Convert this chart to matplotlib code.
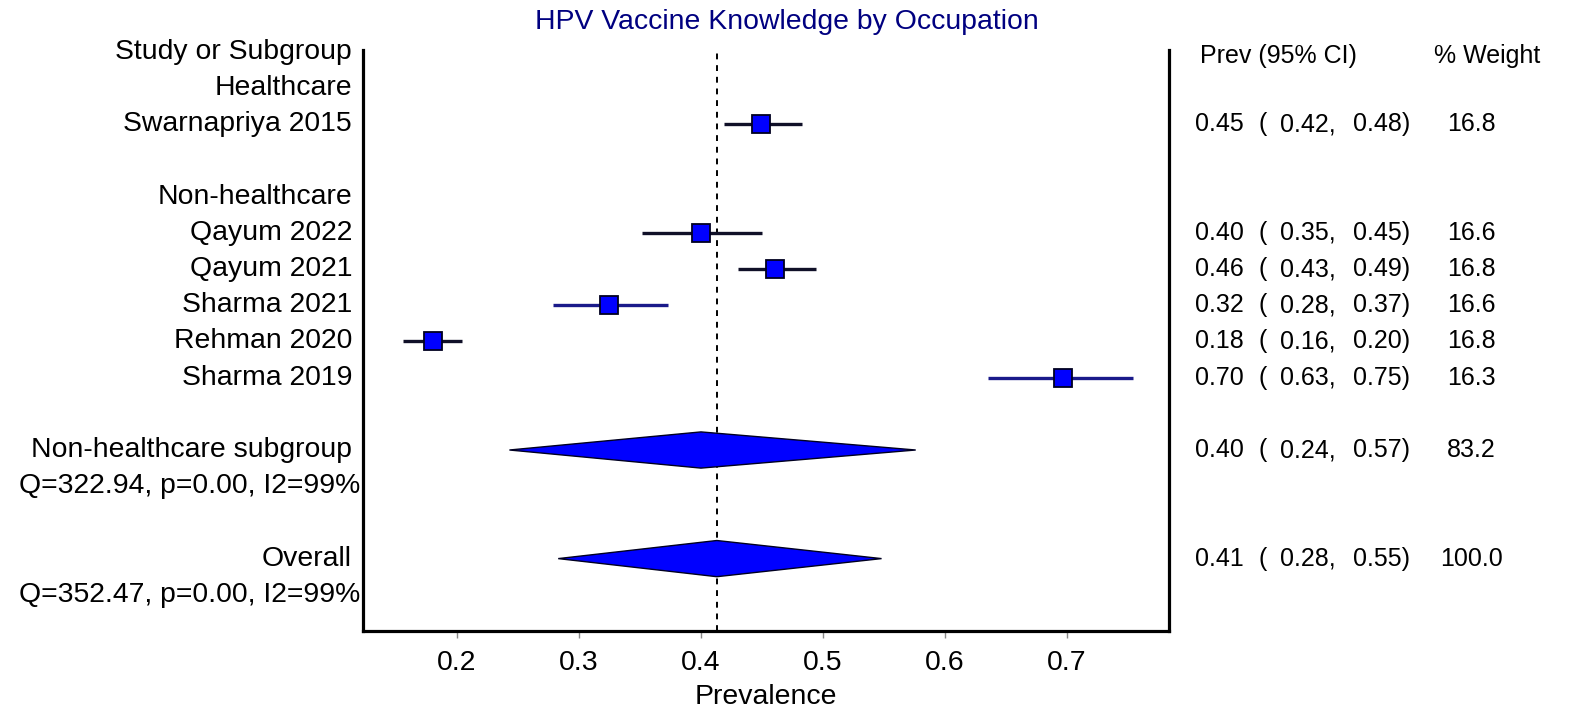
import matplotlib
matplotlib.use("Agg")
import matplotlib.pyplot as plt
from matplotlib.transforms import blended_transform_factory

plt.rcParams["font.family"] = ["Liberation Sans", "DejaVu Sans"]

# ---- data ----
study_names = ["Swarnapriya 2015", "Qayum 2022", "Qayum 2021",
               "Sharma 2021", "Rehman 2020", "Sharma 2019"]
study_rows = [2, 5, 6, 7, 8, 9]
study_est = [0.449, 0.400, 0.461, 0.325, 0.180, 0.697]
study_lo = [0.419, 0.352, 0.430, 0.279, 0.156, 0.635]
study_hi = [0.483, 0.450, 0.494, 0.373, 0.204, 0.754]
study_est_txt = ["0.45", "0.40", "0.46", "0.32", "0.18", "0.70"]
study_lo_txt = ["0.42,", "0.35,", "0.43,", "0.28,", "0.16,", "0.63,"]
study_hi_txt = ["0.48)", "0.45)", "0.49)", "0.37)", "0.20)", "0.75)"]
study_weight = ["16.8", "16.6", "16.8", "16.6", "16.8", "16.3"]

pooled_names = ["Non-healthcare subgroup", "Overall"]
pooled_rows = [11, 14]
pooled_est = [0.400, 0.413]
pooled_lo = [0.243, 0.283]
pooled_hi = [0.576, 0.548]
pooled_est_txt = ["0.40", "0.41"]
pooled_lo_txt = ["0.24,", "0.28,"]
pooled_hi_txt = ["0.57)", "0.55)"]
pooled_weight = ["83.2", "100.0"]
het_txt = ["Q=322.94, p=0.00, I2=99%", "Q=352.47, p=0.00, I2=99%"]
het_rows = [12, 15]

group_names = ["Healthcare", "Non-healthcare"]
group_rows = [1, 4]

ref_line = 0.413
x_ticks = [0.2, 0.3, 0.4, 0.5, 0.6, 0.7]

# ---- figure ----
W, H = 1595, 716
fig = plt.figure(figsize=(W / 100, H / 100), dpi=100)
ax = fig.add_axes([363 / W, 1 - 631 / H, (1169 - 363) / W, (631 - 50) / H])
ax.set_xlim(0.1230, 0.7836)
ax.set_ylim(16.0, -0.05)

fs = 20.4      # labels on the left, title, axis
fs_r = 18      # table on the right
navy = "#000080"

# reference line
ax.axvline(ref_line, color="black", lw=1.4, ls=(0, (3, 3)), zorder=1)

# study CIs and squares
ci_colors = ["#101028", "#101028", "#101028", "#1a1a8a", "#101028", "#1a1a8a"]
for i in range(len(study_names)):
    y = study_rows[i]
    ax.plot([study_lo[i], study_hi[i]], [y, y], color=ci_colors[i], lw=2.4,
            solid_capstyle="butt", zorder=2)
    ax.plot(study_est[i], y, marker="s", ms=13, mfc="#0000ff", mec="#000020",
            mew=1.3, zorder=3)

# pooled diamonds
for i in range(len(pooled_names)):
    y = pooled_rows[i]
    h = 0.5
    ax.fill([pooled_lo[i], pooled_est[i], pooled_hi[i], pooled_est[i]],
            [y, y - h, y, y + h], facecolor="#0000ff", edgecolor="#000020",
            lw=1.0, zorder=3)

# axes styling
ax.spines["top"].set_visible(False)
for s in ["left", "right", "bottom"]:
    ax.spines[s].set_linewidth(2.3)
ax.set_yticks([])
ax.set_xticks(x_ticks)
ax.set_xticklabels([f"{t:.1f}" for t in x_ticks], fontsize=fs)
ax.tick_params(axis="x", direction="out", length=5, width=1, color="#888888",
               pad=9)
ax.set_xlabel("Prevalence", fontsize=fs, labelpad=5.5)

# title
fig.text(787 / W, 1 - 22 / H, "HPV Vaccine Knowledge by Occupation",
         fontsize=fs, color=navy, ha="center", va="center")

# left text column
tr = blended_transform_factory(fig.transFigure, ax.transData)
lx = 352 / W
ax.text(lx, 0, "Study or Subgroup", transform=tr, ha="right", va="center",
        fontsize=fs)
for name, y in zip(group_names, group_rows):
    ax.text(lx, y, name, transform=tr, ha="right", va="center", fontsize=fs)
for name, y in zip(study_names, study_rows):
    ax.text(lx, y, name, transform=tr, ha="right", va="center", fontsize=fs)
for name, y in zip(pooled_names, pooled_rows):
    ax.text(lx, y, name, transform=tr, ha="right", va="center", fontsize=fs)
for t, y in zip(het_txt, het_rows):
    ax.text(360 / W, y, t, transform=tr, ha="right", va="center", fontsize=fs)

# right text columns
ax.text(1200 / W, 0.12, "Prev (95% CI)", transform=tr, ha="left",
        va="center", fontsize=fs_r)
ax.text(1434 / W, 0.12, "% Weight", transform=tr, ha="left", va="center",
        fontsize=fs_r)

rows_all = study_rows + pooled_rows
est_all = study_est_txt + pooled_est_txt
lo_all = study_lo_txt + pooled_lo_txt
hi_all = study_hi_txt + pooled_hi_txt
wt_all = study_weight + pooled_weight
for y, e, lo, hi, wt in zip(rows_all, est_all, lo_all, hi_all, wt_all):
    ax.text(1195 / W, y, e, transform=tr, ha="left", va="center", fontsize=fs_r)
    ax.text(1259 / W, y, "(", transform=tr, ha="left", va="center", fontsize=fs_r)
    ax.text(1280 / W, y, lo, transform=tr, ha="left", va="center", fontsize=fs_r)
    ax.text(1353 / W, y, hi, transform=tr, ha="left", va="center", fontsize=fs_r)
    ax.text(1471 / W, y, wt, transform=tr, ha="center", va="center", fontsize=fs_r)

fig.savefig("out.png", dpi=100)
